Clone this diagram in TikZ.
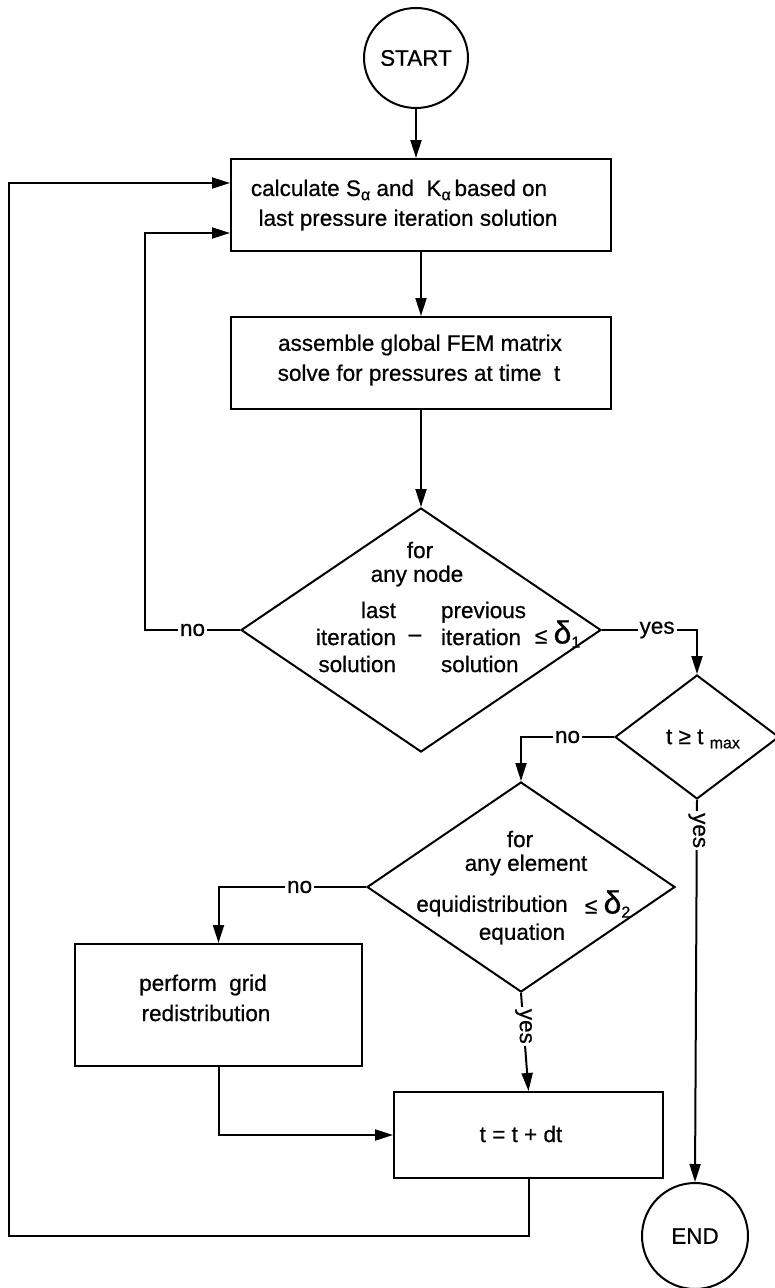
\documentclass[tikz,border=0pt]{standalone}
\usepackage{fontspec}
\setmainfont{Liberation Sans}[FakeBold=0.6]
\usetikzlibrary{shapes.geometric,arrows.meta}
\newcommand{\sbs}[1]{\raisebox{-0.35ex}{\fontsize{16}{16}\selectfont #1}}
\newcommand{\bigdelta}{{\fontsize{32}{32}\selectfont δ}}
\begin{document}
\begin{tikzpicture}[x=1pt,y=-1pt,
  line width=2pt,
  every node/.style={font=\fontsize{22.5}{27}\selectfont},
  txt/.style={inner sep=0pt},
  lbl/.style={fill=white, inner sep=2pt},
  boxshape/.style={draw, rectangle, inner sep=0pt},
  dia/.style={draw, diamond, inner sep=0pt},
  term/.style={draw, ellipse, inner sep=0pt},
  arr/.style={-{Triangle[length=18pt,width=11pt]}},
]
\useasboundingbox (0,0) rectangle (774,1288);

% terminals
\node[term, minimum width=104pt, minimum height=100pt] (start) at (416,58) {START};
\node[term, minimum width=106pt, minimum height=106pt] (end) at (695,1236) {END};

% boxes
\node[boxshape, minimum width=380pt, minimum height=92pt] (b1) at (421,205) {};
\node[boxshape, minimum width=380pt, minimum height=92pt] (b2) at (421,363) {};
\node[boxshape, minimum width=287pt, minimum height=122pt] (b3) at (218.5,1005) {};
\node[boxshape, minimum width=269pt, minimum height=86pt] (b4) at (528.5,1135) {};

% diamonds
\node[dia, minimum width=360pt, minimum height=244pt] (d1) at (421,630) {};
\node[dia, minimum width=164pt, minimum height=124pt] (d2) at (697,737) {};
\node[dia, minimum width=308pt, minimum height=210pt] (d3) at (521,887) {};

% box texts
\node[txt] (b1a) at (399,190) {calculate S\sbs{α} and \ K\sbs{α}\,based on};
\node[txt] (b1b) at (408,220) {last pressure iteration solution};
\node[txt] (b2a) at (420,345) {assemble global FEM matrix};
\node[txt] (b2b) at (419,375) {solve for pressures at time \ t};
\node[txt] (b3a) at (203,985) {perform \ grid};
\node[txt] (b3b) at (206,1013) {redistribution};
\node[txt] (b4a) at (521,1134) {t = t + dt};

% diamond 1 texts
\node[txt] (d1a) at (420,550) {for};
\node[txt] (d1b) at (417,576) {any node};
\node[txt, align=right, anchor=east] (d1l) at (397,637) {last\\iteration\\solution};
\node[txt] (d1m) at (415,638) {–};
\node[txt, align=left, anchor=west] (d1r) at (440,637) {previous\\iteration\\solution};
\node[txt, anchor=west] (d1le) at (534,634) {≤ \bigdelta\sbs{1}};

% diamond 2 text
\node[txt] (d2a) at (703,739) {t ≥ t \sbs{max}};

% diamond 3 texts
\node[txt] (d3a) at (520,839) {for};
\node[txt] (d3b) at (526,865) {any element};
\node[txt] (d3c) at (492,906) {equidistribution};
\node[txt, anchor=west] (d3le) at (584,904) {≤ \bigdelta\sbs{2}};
\node[txt] (d3d) at (522,934) {equation};

% helper coordinates
\coordinate (c1) at (145,630);
\coordinate (c2) at (9,1236);

% connectors
\draw[arr] (start.south) -- (start.south |- b1.north);
\draw[arr] (b1.south) -- (b2.north);
\draw[arr] (b2.south) -- (d1.north);
\draw[arr] (d1.west) -- node[lbl]{no} (c1) |- ([yshift=-28pt]b1.west);
\draw[arr] (d1.east) -- node[lbl, pos=0.58]{yes} (d1.east -| d2.north) -- (d2.north);
\draw[arr] (d2.west) -- node[lbl]{no} (d2.west -| d3.north) -- (d3.north);
\draw[arr] (d2.south) -- node[lbl, rotate=-90, pos=0.08]{yes} (end.north);
\draw[arr] (d3.west) -- node[lbl, pos=0.45]{no} (d3.west -| b3.north) -- (b3.north);
\draw[arr] (d3.south) -- node[lbl, rotate=-90, pos=0.34]{yes} (b4.north);
\draw[arr] (b3.south) |- (b4.west);
\draw[arr] (b4.south) |- (c2) |- ([yshift=22pt]b1.west);
\end{tikzpicture}
\end{document}
